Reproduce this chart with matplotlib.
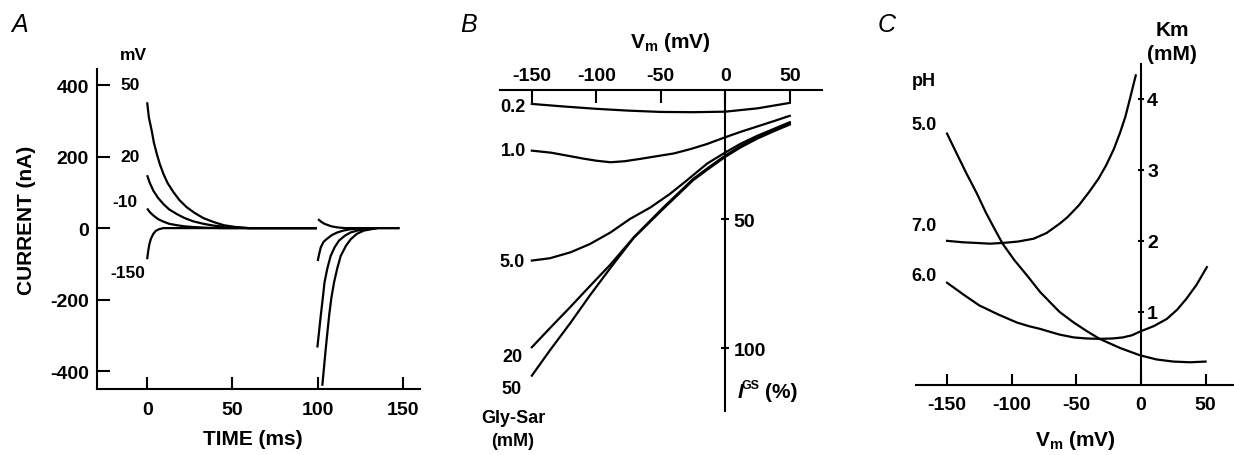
import matplotlib
matplotlib.use('Agg')
import matplotlib.pyplot as plt


W, H = 1234, 456

# ---- panel A: current traces (time in ms, current in nA) ----
A_ON_T_50 = [0, 1, 2.7, 4, 5.7, 7.5, 9.6, 12, 15.5, 19, 23.3, 28, 33, 39, 45, 52, 59, 70, 99.5]
A_ON_I_50 = [352, 310, 272, 238, 207, 178, 151, 126, 100, 78, 58, 42, 28, 17, 8, 3, 0, 0, 0]
A_ON_T_20 = [0, 1.5, 3.7, 6.5, 9.6, 13, 17.5, 22, 27, 33, 39, 45, 51, 60, 99.5]
A_ON_I_20 = [148, 127, 104, 84, 67, 52, 39, 28, 19, 12, 7, 4, 2, 0, 0]
A_ON_T_M10 = [0, 1.5, 3.7, 6.5, 9.6, 13, 17.5, 22, 27, 35, 45, 99.5]
A_ON_I_M10 = [55, 45, 35, 25, 18, 12, 8, 5, 3, 1, 0, 0]
A_ON_T_M150 = [0, 0.6, 1.3, 2.2, 3.5, 5, 7, 9.5, 99.5]
A_ON_I_M150 = [-87, -65, -45, -30, -17, -8, -3, 0, 0]

A_OFF_T_M150 = [100.2, 102, 104, 105.7, 108, 111.6, 116, 148]
A_OFF_I_M150 = [25, 18, 12, 9, 5, 2, 0, 0]
A_OFF_T_M10 = [100, 101, 101.8, 103.5, 105.7, 108.5, 111.6, 115, 119.4, 127]
A_OFF_I_M10 = [-92, -70, -54, -38, -29, -19, -12, -7, -3, 0]
A_OFF_T_20 = [99.8, 100.8, 101.8, 103, 104, 105.7, 107.6, 110, 112.5, 116, 119.4, 124, 129, 135]
A_OFF_I_20 = [-334, -290, -245, -196, -152, -112, -78, -53, -35, -21, -12, -6, -3, 0]
A_OFF_T_50 = [102.7, 103.7, 104.7, 105.7, 106.7, 108, 109.6, 111.5, 113.5, 116.5, 119.4, 123, 127, 135, 148]
A_OFF_I_50 = [-441, -390, -339, -292, -245, -196, -152, -112, -78, -50, -31, -16, -7, 0, 0]

A_TRACE_LABELS = ['50', '20', '-10', '-150']

# ---- panel B: normalised I_GS (%) vs Vm (mV) for Gly-Sar concentrations ----
B_V_02 = [-150, -125, -100, -75, -50, -25, 0, 25, 50]
B_I_02 = [5.4, 6.4, 7.3, 8.0, 8.5, 8.6, 8.4, 7.1, 5.0]
B_V_1 = [-150, -135, -123, -110, -100, -89, -78, -66, -50, -40, -27, -14, 0, 12, 25, 38, 50]
B_I_1 = [23.5, 24.3, 25.4, 26.6, 27.4, 28, 27.6, 26.7, 25.4, 24.6, 22.9, 20.9, 18.3, 16.2, 14.1, 12.0, 10.0]
B_V_5 = [-150, -136, -120, -105, -89, -74, -58, -43, -30, -14, 0, 12, 25, 38, 50]
B_I_5 = [66.1, 65.2, 62.9, 59.7, 55.2, 50, 45.5, 40.3, 35.1, 28.5, 24.2, 20.8, 17.7, 15.0, 12.5]
B_V_20 = [-150, -136, -120, -105, -89, -71, -48, -25, -14, 0, 12, 25, 38, 50]
B_I_20 = [99.7, 92.3, 84.0, 76.0, 67.6, 57.1, 45.5, 34.5, 30.4, 25.4, 21.7, 18.3, 15.4, 12.9]
B_V_50 = [-150, -136, -120, -105, -89, -71, -48, -25, -14, 0, 12, 25, 38, 50]
B_I_50 = [110.7, 100.9, 90.2, 79.6, 68.9, 57.3, 46.0, 35.0, 30.9, 25.9, 22.2, 18.8, 15.9, 13.4]

# ---- panel C: Km (mM) vs Vm (mV) at three pH values ----
C_V_PH5 = [-150, -142, -135, -127, -120, -113, -107, -98, -88, -78, -70, -63, -52, -42, -32,
           -16, -1, 12, 25, 38, 50]
C_KM_PH5 = [3.51, 3.21, 2.95, 2.67, 2.40, 2.16, 1.96, 1.73, 1.51, 1.28, 1.13, 1.0, 0.85, 0.73,
            0.62, 0.49, 0.39, 0.33, 0.30, 0.29, 0.30]
C_V_PH7 = [-150, -138, -127, -117, -107, -95, -83, -73, -63, -57, -48, -40, -33, -27, -21, -16,
           -12, -8.5, -4]
C_KM_PH7 = [2.0, 1.98, 1.97, 1.96, 1.97, 1.99, 2.03, 2.11, 2.24, 2.33, 2.50, 2.69, 2.87, 3.06,
            3.29, 3.53, 3.75, 4.0, 4.33]
C_V_PH6 = [-150, -137, -125, -110, -96, -87, -78, -63, -52, -42, -32, -22, -14, -7, -1, 10, 20,
           28, 35, 43, 51]
C_KM_PH6 = [1.41, 1.24, 1.09, 0.96, 0.85, 0.80, 0.76, 0.68, 0.64, 0.625, 0.62, 0.625, 0.64, 0.67,
            0.72, 0.80, 0.90, 1.03, 1.18, 1.38, 1.63]


LW = 1.6
TICK_FS = 14
LAB_FS = 15


def px_text(fig, x, y, s, **kw):
    # place text by pixel position in the reference image
    kw.setdefault('ha', 'center')
    kw.setdefault('va', 'center')
    kw.setdefault('fontweight', 'bold')
    fig.text(x / W, 1 - y / H, s, **kw)


def px_axes(fig, x0, y0, x1, y1):
    return fig.add_axes([x0 / W, 1 - y1 / H, (x1 - x0) / W, (y1 - y0) / H])


def plot_panel_a(fig):
    ax = px_axes(fig, 97, 70, 420, 390)
    for t, i in [(A_ON_T_50, A_ON_I_50), (A_ON_T_20, A_ON_I_20),
                 (A_ON_T_M10, A_ON_I_M10), (A_ON_T_M150, A_ON_I_M150),
                 (A_OFF_T_M150, A_OFF_I_M150), (A_OFF_T_M10, A_OFF_I_M10),
                 (A_OFF_T_20, A_OFF_I_20), (A_OFF_T_50, A_OFF_I_50)]:
        ax.plot(t, i, color='black', lw=LW, solid_capstyle='butt')

    ax.set_xlim(-29.4, 160)
    ax.set_ylim(-450, 445)
    ax.set_xticks([0, 50, 100, 150])
    ax.set_yticks([-400, -200, 0, 200, 400])
    ax.spines['top'].set_visible(False)
    ax.spines['right'].set_visible(False)
    for s in ['left', 'bottom']:
        ax.spines[s].set_linewidth(1.5)
    ax.tick_params(axis='both', direction='in', length=9, width=1.5, labelsize=TICK_FS)
    ax.tick_params(axis='x', pad=9)
    ax.tick_params(axis='y', pad=6)
    for lbl in ax.get_xticklabels() + ax.get_yticklabels():
        lbl.set_fontweight('bold')

    px_text(fig, 27, 220, 'CURRENT (nA)', rotation=90, fontsize=LAB_FS)
    px_text(fig, 253, 440, 'TIME (ms)', fontsize=LAB_FS)
    px_text(fig, 20, 25, 'A', fontsize=18, fontweight='normal', style='italic')
    px_text(fig, 133, 55, 'mV', fontsize=12.5)
    for (x, y), s in zip([(130, 85), (130, 157), (125, 203), (128, 273)], A_TRACE_LABELS):
        px_text(fig, x, y, s, fontsize=12.5)


def plot_panel_b(fig):
    ax = px_axes(fig, 500, 91, 822, 412)
    for v, i in [(B_V_02, B_I_02), (B_V_1, B_I_1), (B_V_5, B_I_5),
                 (B_V_20, B_I_20), (B_V_50, B_I_50)]:
        ax.plot(v, i, color='black', lw=LW)

    ax.set_xlim(-174.7, 75)
    ax.set_ylim(124.4, 0)
    ax.spines['bottom'].set_visible(False)
    ax.spines['left'].set_visible(False)
    ax.spines['right'].set_position(('data', 0))
    for s in ['top', 'right']:
        ax.spines[s].set_linewidth(1.5)
    ax.xaxis.tick_top()
    ax.yaxis.tick_right()
    ax.set_xticks([-150, -100, -50, 0, 50])
    ax.set_yticks([50, 100])
    ax.tick_params(axis='x', direction='in', length=9, width=1.5, labelsize=TICK_FS, pad=4)
    ax.tick_params(axis='y', direction='inout', length=6, width=1.5, labelsize=TICK_FS, pad=3)
    for lbl in ax.get_xticklabels() + ax.get_yticklabels():
        lbl.set_fontweight('bold')

    px_text(fig, 469, 25, 'B', fontsize=18, fontweight='normal', style='italic')
    px_text(fig, 670, 43, r'V$_{\mathregular{m}}$ (mV)', fontsize=LAB_FS)
    for (x, y), s in zip([(513, 108), (513, 152), (512, 263), (512, 357), (512, 389)],
                         ['0.2', '1.0', '5.0', '20', '50']):
        px_text(fig, x, y, s, fontsize=13)
    px_text(fig, 513, 419, 'Gly-Sar', fontsize=13)
    px_text(fig, 513, 442, '(mM)', fontsize=13)
    px_text(fig, 740, 393, 'I', fontsize=LAB_FS, style='italic')
    px_text(fig, 742, 386, 'GS', fontsize=9, ha='left')
    px_text(fig, 765, 393, '(%)', fontsize=LAB_FS, ha='left')


def plot_panel_c(fig):
    ax = px_axes(fig, 916, 65, 1234, 386)
    for v, k in [(C_V_PH5, C_KM_PH5), (C_V_PH7, C_KM_PH7), (C_V_PH6, C_KM_PH6)]:
        ax.plot(v, k, color='black', lw=LW)

    ax.set_xlim(-174, 72)
    ax.set_ylim(-0.03, 4.49)
    ax.spines['top'].set_visible(False)
    ax.spines['left'].set_visible(False)
    ax.spines['right'].set_position(('data', 0))
    for s in ['bottom', 'right']:
        ax.spines[s].set_linewidth(1.5)
    ax.yaxis.tick_right()
    ax.set_xticks([-150, -100, -50, 0, 50])
    ax.set_yticks([1, 2, 3, 4])
    ax.tick_params(axis='x', direction='in', length=8, width=1.5, labelsize=TICK_FS, pad=8)
    ax.tick_params(axis='y', direction='inout', length=5, width=1.5, labelsize=TICK_FS, pad=2)
    for lbl in ax.get_xticklabels() + ax.get_yticklabels():
        lbl.set_fontweight('bold')

    px_text(fig, 887, 25, 'C', fontsize=18, fontweight='normal', style='italic')
    px_text(fig, 1172, 30, 'Km', fontsize=LAB_FS)
    px_text(fig, 1172, 55, '(mM)', fontsize=LAB_FS)
    px_text(fig, 1075, 441, r'V$_{\mathregular{m}}$ (mV)', fontsize=LAB_FS)
    for (x, y), s in zip([(924, 82), (924, 126), (924, 227), (924, 277)],
                         ['pH', '5.0', '7.0', '6.0']):
        px_text(fig, x, y, s, fontsize=13)


plt.rcParams['font.family'] = ['Liberation Sans', 'DejaVu Sans']
plt.rcParams['font.weight'] = 'bold'
plt.rcParams['mathtext.default'] = 'regular'
plt.rcParams['axes.unicode_minus'] = False

fig = plt.figure(figsize=(W / 100, H / 100), dpi=100)
plot_panel_a(fig)
plot_panel_b(fig)
plot_panel_c(fig)
fig.savefig('out.png', dpi=100)
